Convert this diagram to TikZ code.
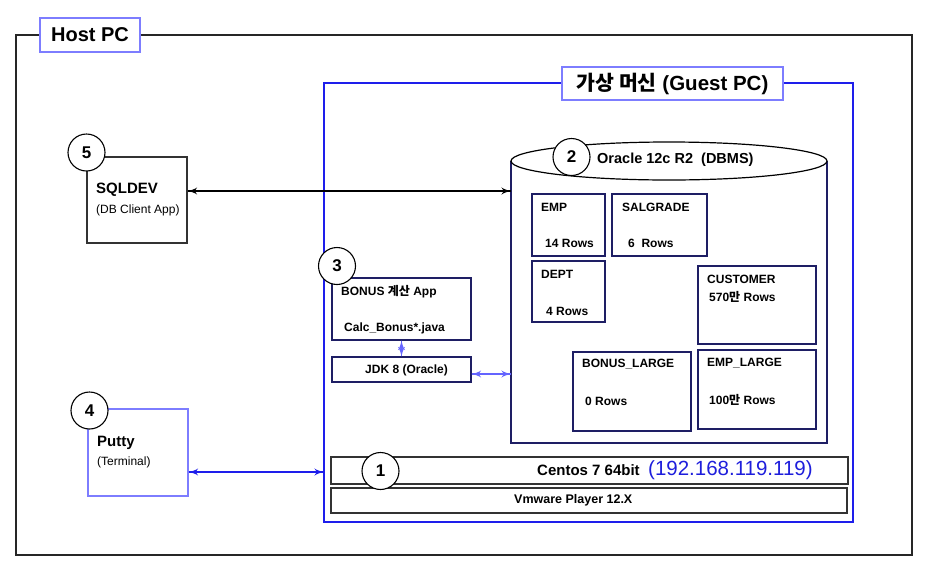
\documentclass[tikz,border=0pt]{standalone}
\usepackage{fontspec}
\setmainfont{Liberation Sans}
\newfontfamily\kr{Noto Sans CJK KR}
\usetikzlibrary{arrows}
\usetikzlibrary{decorations.markings}
\usetikzlibrary{positioning}
\definecolor{lblue}{RGB}{125, 125, 255}
\definecolor{gblue}{RGB}{30, 30, 235}
\definecolor{tnavy}{RGB}{30, 30, 100}
\definecolor{ablue}{RGB}{100, 100, 255}
\definecolor{ipblue}{RGB}{30, 30, 220}
\tikzset{frame/.style = {draw, fill = white, rectangle, inner sep = 0, line width = 1.2pt}}
\tikzset{tbl/.style = {frame, draw = tnavy}}
\tikzset{num/.style = {draw, fill = white, circle, inner sep = 0, minimum size = 37, line width = 1.1pt,
                       font = \bfseries\fontsize{17}{17}\selectfont}}
\tikzset{txt/.style = {anchor = west, inner sep = 0, font = \bfseries\fontsize{12}{12}\selectfont}}
\tikzset{dbl/.style = {line width = 1.2pt,
                       decoration = {markings,
                                     mark = at position 0 with {\arrowreversed[scale = 1.5]{latex'}},
                                     mark = at position 1 with {\arrow[scale = 1.5]{latex'}}},
                       postaction = {decorate}}}

\begin{document}
\begin{tikzpicture}[x = 1pt, y = -1pt]
      \useasboundingbox (0, 0) rectangle (937, 571);

      \node [frame, draw = black!85, minimum width = 896, minimum height = 520] (host) at (464, 295) {};
      \node [frame, draw = lblue, minimum width = 100, minimum height = 34,
             font = \bfseries\fontsize{20}{20}\selectfont] (hostlbl) at (90, 35) {Host PC};

      \node [frame, draw = gblue, minimum width = 529, minimum height = 439] (guest) at (588.5, 302.5) {};
      \node [frame, draw = lblue, minimum width = 221, minimum height = 33,
             font = \bfseries\fontsize{20.5}{20.5}\selectfont] (guestlbl) at (672.5, 83.5) {{\kr 가상 머신} (Guest PC)};

      \draw [tnavy, line width = 1.2pt, fill = white] (511, 161) -- (511, 443) -- (827, 443) -- (827, 161);
      \draw [line width = 1.2pt, fill = white] (669, 161) ellipse [x radius = 158, y radius = 19];
      \node [txt, font = \bfseries\fontsize{14.5}{14.5}\selectfont] (dbname) at (597, 160) {Oracle 12c R2\ \ (DBMS)};
      \coordinate (dbsql) at (511, 191);
      \coordinate (dbjdk) at (511, 374);

      \node [tbl, minimum width = 73, minimum height = 62] (emp) at (568.5, 225) {};
      \node [txt] (empname) at (541, 207) {EMP};
      \node [txt] (emprows) at (545, 243) {14 Rows};
      \node [tbl, minimum width = 95, minimum height = 62] (salgrade) at (659.5, 225) {};
      \node [txt] (salname) at (622, 207) {SALGRADE};
      \node [txt] (salrows) at (628, 243) {6\ \ Rows};
      \node [tbl, minimum width = 73, minimum height = 61] (dept) at (568.5, 291.5) {};
      \node [txt] (deptname) at (541, 274) {DEPT};
      \node [txt] (deptrows) at (546, 311) {4 Rows};
      \node [tbl, minimum width = 118, minimum height = 78] (customer) at (757, 305) {};
      \node [txt] (custname) at (707, 279) {CUSTOMER};
      \node [txt] (custrows) at (709, 297) {570{\kr 만} Rows};
      \node [tbl, minimum width = 118, minimum height = 79] (bonuslarge) at (632, 391.5) {};
      \node [txt] (blname) at (582, 364) {BONUS\_LARGE};
      \node [txt] (blrows) at (585, 401) {0 Rows};
      \node [tbl, minimum width = 118, minimum height = 79] (emplarge) at (757, 389.5) {};
      \node [txt] (elname) at (707, 363) {EMP\_LARGE};
      \node [txt] (elrows) at (709, 400) {100{\kr 만} Rows};

      \node [tbl, minimum width = 139, minimum height = 62] (bonus) at (401.5, 309) {};
      \node [txt] (bonusname) at (341, 292) {BONUS {\kr 계산} App};
      \node [txt] (bonusfile) at (344, 328) {Calc\_Bonus*.java};
      \node [tbl, minimum width = 139, minimum height = 25] (jdk) at (401.5, 369.5) {};
      \node [txt] (jdkname) at (365, 370) {JDK 8 (Oracle)};

      \node [frame, draw = black!80, minimum width = 517, minimum height = 27] (centos) at (589.5, 470.5) {};
      \node [txt, font = \bfseries\fontsize{15}{15}\selectfont] (centosname) at (537, 470) {Centos 7 64bit};
      \node [txt, text = ipblue, font = \fontsize{20.5}{20.5}\selectfont] (centosip) at (648, 470) {(192.168.119.119)};
      \node [frame, draw = black!80, minimum width = 516, minimum height = 25] (vmware) at (589, 500.5) {};
      \node [txt, font = \bfseries\fontsize{12.5}{12.5}\selectfont] (vmwarename) at (514, 500) {Vmware Player 12.X};
      \coordinate (guestin) at (324, 472);

      \node [frame, draw = black!80, minimum width = 100, minimum height = 86] (sqldev) at (137, 200) {};
      \node [txt, font = \bfseries\fontsize{15}{15}\selectfont] (sqlname) at (96, 190) {SQLDEV};
      \node [txt, font = \fontsize{12}{12}\selectfont] (sqlnote) at (96, 210) {(DB Client App)};

      \node [frame, draw = lblue, minimum width = 100, minimum height = 87] (putty) at (138, 452.5) {};
      \node [txt, font = \bfseries\fontsize{15}{15}\selectfont] (puttyname) at (97, 443) {Putty};
      \node [txt, font = \fontsize{12}{12}\selectfont] (puttynote) at (97, 462) {(Terminal)};

      \draw [dbl] (sqldev.east |- dbsql) -- (dbsql);
      \draw [dbl, ablue] (bonus) -- (jdk);
      \draw [dbl, ablue] (jdk.east |- dbjdk) -- (dbjdk);
      \draw [dbl, gblue] (putty.east |- guestin) -- (guestin);

      \node [num] (n5) at (86.5, 152.5) {5};
      \node [num] (n2) at (571.5, 157) {2};
      \node [num] (n3) at (337, 266) {3};
      \node [num] (n1) at (380.5, 471) {1};
      \node [num] (n4) at (89.5, 410.5) {4};
    \end{tikzpicture}
\end{document}
